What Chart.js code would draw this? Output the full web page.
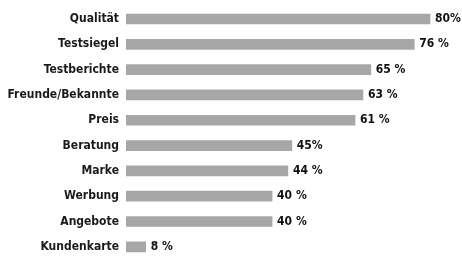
<!DOCTYPE html>
<html>
<head>
<meta charset="utf-8">
<script src="https://cdn.jsdelivr.net/npm/chart.js@4/dist/chart.umd.min.js"></script>
<style>
  html, body { margin: 0; padding: 0; background: #fff; }
  #wrap { width: 462px; height: 261px; position: relative; }
</style>
</head>
<body>
<div id="wrap"><canvas id="myChart"></canvas></div>
<script>
// Gründe / Kriterien (Werte in %)
var categories = ["Qualität", "Testsiegel", "Testberichte", "Freunde/Bekannte", "Preis",
                  "Beratung", "Marke", "Werbung", "Angebote", "Kundenkarte"];
var values = [80, 76, 65, 63, 61, 45, 44, 40, 40, 8];
var valueLabels = ["80%", "76 %", "65 %", "63 %", "61 %", "45%", "44 %", "40 %", "40 %", "8 %"];

var fontFamily = "'DejaVu Sans Condensed', 'Liberation Sans Narrow', sans-serif";

// Beschriftung rechts neben den Balken
var valueLabelPlugin = {
  id: "valueLabels",
  afterDatasetsDraw: function (chart) {
    var ctx = chart.ctx;
    var meta = chart.getDatasetMeta(0);
    ctx.save();
    ctx.font = "bold 12px " + fontFamily;
    ctx.fillStyle = "#111";
    ctx.textAlign = "left";
    ctx.textBaseline = "middle";
    meta.data.forEach(function (bar, i) {
      ctx.fillText(valueLabels[i], bar.x + 5, bar.y);
    });
    ctx.restore();
  }
};

var ctx = document.getElementById("myChart").getContext("2d");
var myChart = new Chart(ctx, {
  type: "bar",
  data: {
    labels: categories,
    datasets: [{
      data: values,
      backgroundColor: "#a7a7a7",
      borderWidth: 0,
      barThickness: 10,
      // links an der Achse abschneiden, oben/unten nicht
      clip: { left: 0, top: false, right: false, bottom: false }
    }]
  },
  options: {
    indexAxis: "y",
    responsive: true,
    maintainAspectRatio: false,
    animation: false,
    layout: { padding: { top: 19, bottom: 6, left: 0, right: 28 } },
    plugins: {
      legend: { display: false },
      tooltip: { enabled: false }
    },
    scales: {
      x: { display: false, min: 3, max: 81 },
      y: {
        offset: false,
        grid: { display: false, drawTicks: false },
        border: { display: false },
        ticks: {
          padding: 7,
          color: "#1a1a1a",
          font: { family: fontFamily, weight: "bold", size: 12 }
        },
        afterFit: function (scale) { scale.width = 126; }
      }
    }
  },
  plugins: [valueLabelPlugin]
});
</script>
</body>
</html>
